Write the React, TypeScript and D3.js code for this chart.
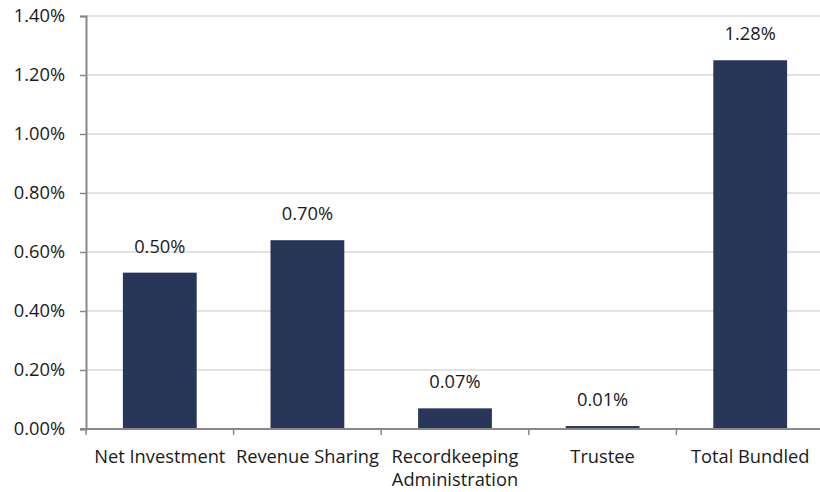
import { useEffect, useRef } from 'react';
import * as d3 from 'd3';

const categories = ['Net Investment', 'Revenue Sharing', 'Recordkeeping Administration', 'Trustee', 'Total Bundled'];
const categoryLines = [['Net Investment'], ['Revenue Sharing'], ['Recordkeeping', 'Administration'], ['Trustee'], ['Total Bundled']];
// bar heights as drawn, and the labels printed above them
const barValues = [0.0053, 0.0064, 0.0007, 0.0001, 0.0125];
const labelValues = ['0.50%', '0.70%', '0.07%', '0.01%', '1.28%'];
const yTicks = [0, 0.002, 0.004, 0.006, 0.008, 0.01, 0.012, 0.014];

const width = 820;
const height = 492;
const font = '"Open Sans", sans-serif';
const fontSize = 18.3;

export default function App() {
  const svgRef = useRef<SVGSVGElement>(null);

  useEffect(() => {
    if (!svgRef.current) return;
    const svg = d3.select(svgRef.current);
    svg.selectAll('*').remove();

    const left = 86;
    const right = 824;
    const top = 16;
    const bottom = 429;

    const x = d3.scaleBand<string>().domain(categories).range([left, right]).paddingInner(0.5).paddingOuter(0.25);
    const y = d3.scaleLinear().domain([0, 0.014]).range([bottom, top]);

    // gridlines
    svg.append('g')
      .selectAll('line')
      .data(yTicks.slice(1))
      .enter()
      .append('line')
      .attr('x1', left)
      .attr('x2', right)
      .attr('y1', d => y(d))
      .attr('y2', d => y(d))
      .attr('stroke', '#d9d9d9')
      .attr('stroke-width', 1.5);

    // bars
    svg.append('g')
      .selectAll('rect')
      .data(barValues)
      .enter()
      .append('rect')
      .attr('x', (_, i) => x(categories[i])!)
      .attr('width', x.bandwidth())
      .attr('y', d => y(d))
      .attr('height', d => bottom - y(d))
      .attr('fill', '#283759');

    // value labels
    svg.append('g')
      .selectAll('text')
      .data(barValues)
      .enter()
      .append('text')
      .attr('x', (_, i) => x(categories[i])! + x.bandwidth() / 2)
      .attr('y', d => y(d) - 20)
      .attr('text-anchor', 'middle')
      .attr('font-family', font)
      .attr('font-size', fontSize)
      .attr('fill', '#1a1a1a')
      .text((_, i) => labelValues[i]);

    // y axis
    const yAxis = svg.append('g')
      .attr('transform', `translate(${left},0)`)
      .call(d3.axisLeft(y).tickValues(yTicks).tickSize(6).tickPadding(15).tickFormat(d => `${(+d * 100).toFixed(2)}%`));
    yAxis.select('.domain').attr('stroke', '#888').attr('stroke-width', 2);
    yAxis.selectAll('.tick line').attr('stroke', '#888').attr('stroke-width', 1.5);
    yAxis.selectAll('.tick text')
      .attr('font-family', font)
      .attr('font-size', fontSize)
      .attr('fill', '#1a1a1a');

    // x axis
    const step = x.step();
    const bounds = d3.range(categories.length + 1).map(i => left + i * step);
    svg.append('line')
      .attr('x1', left - 6)
      .attr('x2', right)
      .attr('y1', bottom)
      .attr('y2', bottom)
      .attr('stroke', '#888')
      .attr('stroke-width', 2);
    svg.append('g')
      .selectAll('line')
      .data(bounds)
      .enter()
      .append('line')
      .attr('x1', d => d)
      .attr('x2', d => d)
      .attr('y1', bottom)
      .attr('y2', bottom + 6)
      .attr('stroke', '#888')
      .attr('stroke-width', 1.5);

    const labels = svg.append('g')
      .selectAll('text')
      .data(categoryLines)
      .enter()
      .append('text')
      .attr('text-anchor', 'middle')
      .attr('font-family', font)
      .attr('font-size', fontSize)
      .attr('fill', '#1a1a1a');
    labels.each(function (lines, i) {
      const cx = x(categories[i])! + x.bandwidth() / 2;
      d3.select(this)
        .selectAll('tspan')
        .data(lines)
        .enter()
        .append('tspan')
        .attr('x', cx)
        .attr('y', (_, j) => 463 + j * 23)
        .text(d => d);
    });
  }, []);

  return (
    <div style={{ position: 'absolute', left: 0, top: 0, width: `${width}px`, height: `${height}px`, overflow: 'hidden' }}>
      <svg ref={svgRef} width={width} height={height} style={{ display: 'block' }}></svg>
    </div>
  );
}
